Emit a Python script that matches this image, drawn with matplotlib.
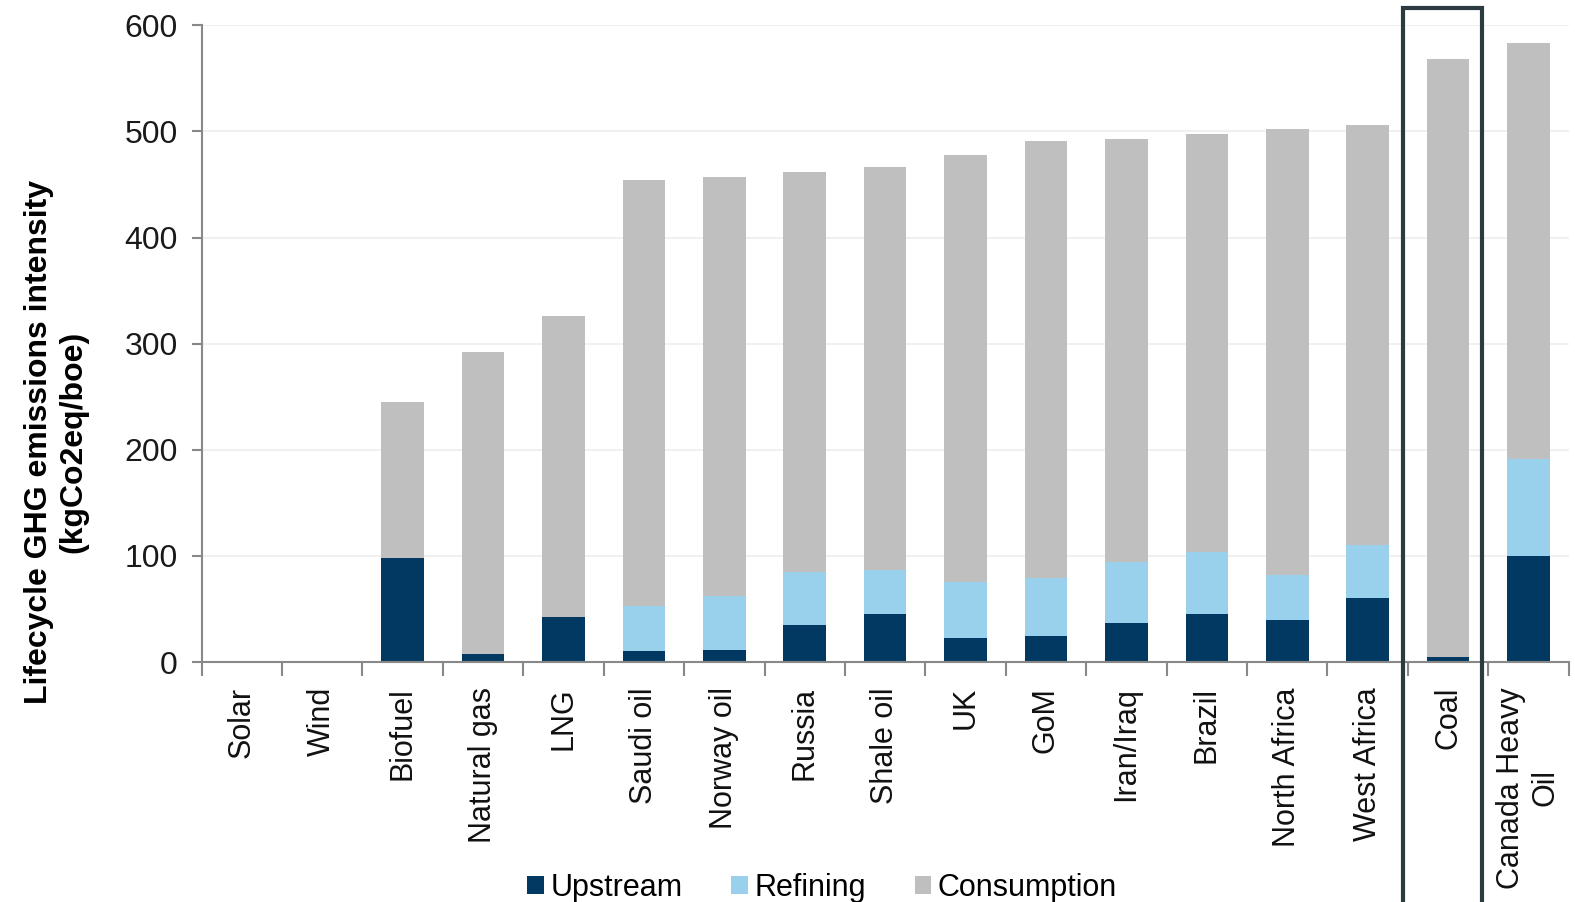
import numpy as np
import matplotlib.pyplot as plt
from matplotlib.patches import Rectangle
from matplotlib.transforms import blended_transform_factory

plt.rcParams['font.family'] = ['Liberation Sans', 'DejaVu Sans']

categories = ["Solar", "Wind", "Biofuel", "Natural gas", "LNG", "Saudi oil",
              "Norway oil", "Russia", "Shale oil", "UK", "GoM", "Iran/Iraq",
              "Brazil", "North Africa", "West Africa", "Coal", "Canada Heavy\nOil"]
upstream = [0, 0, 98, 8, 42, 10, 11, 35, 45, 23, 25, 37, 45, 40, 60, 5, 100]
refining = [0, 0, 0, 0, 0, 43, 51, 50, 42, 52, 54, 57, 59, 42, 50, 0, 91]
consumption = [0, 0, 147, 284, 284, 401, 395, 377, 379, 403, 412, 399, 394, 420, 396, 563, 392]

c_up = '#023962'
c_ref = '#99d0eb'
c_con = '#bfbfbf'

fig = plt.figure(figsize=(15.75, 9.02), dpi=100)
ax = fig.add_axes([0.128, 0.266, 0.868, 0.706])

x = np.arange(len(categories))
up = np.array(upstream)
ref = np.array(refining)
con = np.array(consumption)
w = 0.53
ax.bar(x, up, w, color=c_up, label='Upstream')
ax.bar(x, ref, w, bottom=up, color=c_ref, label='Refining')
ax.bar(x, con, w, bottom=up + ref, color=c_con, label='Consumption')

ax.set_xlim(-0.5, len(categories) - 0.5)
ax.set_ylim(0, 600)
ax.set_yticks(range(0, 601, 100))
ax.yaxis.grid(True, color='#eeeeee', linewidth=1.2)
ax.set_axisbelow(True)

for s in ['top', 'right']:
    ax.spines[s].set_visible(False)
for s in ['left', 'bottom']:
    ax.spines[s].set_color('#888888')
    ax.spines[s].set_linewidth(1.5)

ax.set_xticks(x)
ax.set_xticklabels(categories, rotation=90, va='top', ha='center',
                   multialignment='center', fontsize=22, color='#111111')
ax.tick_params(axis='x', which='major', length=0, pad=18)
ax.set_xticks(np.arange(-0.5, len(categories), 1), minor=True)
ax.tick_params(axis='x', which='minor', length=10, width=1.5, color='#888888')
ax.tick_params(axis='y', length=7, width=1.5, color='#888888',
               labelsize=23, labelcolor='#1a1a1a', pad=10)

ax.set_ylabel("Lifecycle GHG emissions intensity\n(kgCo2eq/boe)",
              fontsize=23, fontweight='bold')
ax.yaxis.set_label_coords(-0.083, 0.345)

# box around coal
trans = blended_transform_factory(ax.transData, fig.transFigure)
box = Rectangle((14.44, -0.05), 0.98, 1.041, transform=trans, fill=False,
                edgecolor='#2d3a40', linewidth=3, clip_on=False)
fig.add_artist(box)

fig.legend(loc='center', bbox_to_anchor=(0.522, 0.016), ncol=3, frameon=False,
           fontsize=22, handlelength=0.55, handleheight=0.55, handletextpad=0.2,
           columnspacing=1.6, borderpad=0)

fig.savefig('out.png', dpi=100)
